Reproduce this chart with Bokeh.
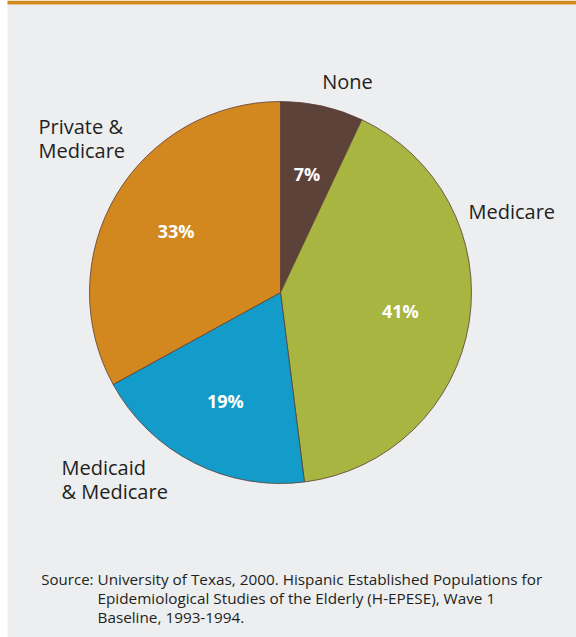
import numpy as np
from bokeh.plotting import figure
from bokeh.models import Range1d, BoxAnnotation, ColumnDataSource
from bokeh.core.properties import value
from bokeh.embed import file_html
from bokeh.resources import INLINE

# ---- data ----
categories = ["None", "Medicare", "Medicaid & Medicare", "Private & Medicare"]
shares = [7, 41, 19, 33]
pct_labels = ["7%", "41%", "19%", "33%"]
name_labels = ["None", "Medicare", "Medicaid\n& Medicare", "Private &\nMedicare"]
colors = ["#5C4239", "#A8B541", "#139BC9", "#D2881E"]
source_label = "Source:"
source_lines = [
    "University of Texas, 2000. Hispanic Established Populations for",
    "Epidemiological Studies of the Elderly (H-EPESE), Wave 1",
    "Baseline, 1993-1994.",
]

W, H = 576, 637
FONT = "Open Sans"
TXT = "#231F20"

p = figure(width=W, height=H, output_backend="svg", toolbar_location=None,
           x_range=Range1d(0, W), y_range=Range1d(0, H), min_border=0)
p.axis.visible = False
p.grid.visible = False
p.outline_line_color = None
p.background_fill_color = "white"
p.border_fill_color = "white"

# panel + top bar
p.add_layout(BoxAnnotation(left=7, right=W, bottom=0, top=H - 4, fill_color="#EDEEF0",
                           fill_alpha=1, line_color=None, level="underlay"))
p.add_layout(BoxAnnotation(left=7, right=W, bottom=H - 4, top=H, fill_color="#D28A1F",
                           fill_alpha=1, line_color=None, level="underlay"))

# pie
cx, cy, R = 280, H - 292, 191
vals = np.array(shares, dtype=float)
frac = vals / vals.sum()
cum = np.concatenate([[0], np.cumsum(frac)])
start = np.pi / 2 - 2 * np.pi * cum[:-1]
end = np.pi / 2 - 2 * np.pi * cum[1:]
mid = (start + end) / 2

src = ColumnDataSource(dict(start=start, end=end, color=colors, cat=categories))
p.wedge(x=cx, y=cy, radius=R, start_angle="start", end_angle="end", direction="clock",
        fill_color="color", line_color="#5A3F36", line_width=0.8, source=src)

# percentage labels inside slices
lr = 0.635 * R
p.text(x=cx + lr * np.cos(mid), y=cy + lr * np.sin(mid), text=pct_labels,
       text_font=value(FONT), text_font_style="bold", text_font_size="18px",
       text_color="white", text_align="center", text_baseline="middle")

# category labels outside (one text line per row, 24 px apart)
name_x = [347, 468, 61, 38]
name_top_y = [81, 211, 467, 126]
name_align = ["center", "left", "left", "left"]
lx, ly, lt, la = [], [], [], []
for x0, y0, lab, al in zip(name_x, name_top_y, name_labels, name_align):
    for k, line in enumerate(lab.split("\n")):
        lx.append(x0)
        ly.append(H - (y0 + 24 * k))
        lt.append(line)
        la.append(al)
p.text(x=lx, y=ly, text=lt, text_font=value(FONT), text_font_size="20px",
       text_color=TXT, text_align=la, text_baseline="middle")

# source note
p.text(x=[93], y=[H - 578], text=[source_label], text_font=value(FONT),
       text_font_size="15px", text_color=TXT, text_align="right", text_baseline="middle")
p.text(x=[97] * len(source_lines), y=[H - 578 - 19 * k for k in range(len(source_lines))],
       text=source_lines, text_font=value(FONT), text_font_size="15.3px",
       text_color=TXT, text_align="left", text_baseline="middle")

open("out.html", "w").write(file_html(p, INLINE))
